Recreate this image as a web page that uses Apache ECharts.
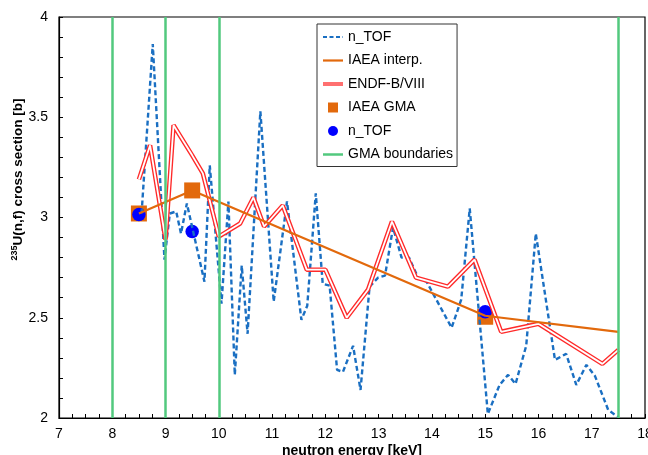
<!DOCTYPE html>
<html>
<head>
<meta charset="utf-8">
<script src="https://cdn.jsdelivr.net/npm/echarts@6/dist/echarts.min.js"></script>
<style>
    html, body { margin: 0; padding: 0; background: #fff; }
    #chart { width: 648px; height: 455px; }
</style>
</head>
<body>
<div id="chart"></div>
<script>
    // n_TOF fine-binned data (dashed)
    var nTofLine = [
        [8.55, 3.02], [8.76, 3.865], [8.98, 2.79], [9.08, 3.02], [9.2, 3.03],
        [9.29, 2.92], [9.40, 3.07], [9.73, 2.68], [9.83, 3.26], [10.05, 2.57],
        [10.18, 3.08], [10.30, 2.215], [10.43, 2.76], [10.54, 2.42], [10.78, 3.53],
        [11.03, 2.58], [11.28, 3.08], [11.55, 2.49], [11.66, 2.56], [11.82, 3.12],
        [11.95, 2.67], [12.08, 2.66], [12.22, 2.24], [12.33, 2.23], [12.52, 2.36],
        [12.66, 2.14], [12.83, 2.655], [12.99, 2.70], [13.12, 2.71], [13.27, 2.95],
        [13.43, 2.80], [13.57, 2.80], [13.74, 2.70], [13.90, 2.68], [14.37, 2.45],
        [14.55, 2.59], [14.71, 3.045], [15.05, 2.02], [15.27, 2.165], [15.43, 2.215],
        [15.57, 2.17], [15.77, 2.36], [15.95, 2.92], [16.31, 2.29], [16.52, 2.32],
        [16.71, 2.165], [16.90, 2.265], [17.06, 2.21], [17.31, 2.04], [17.49, 2.006]
    ];
    // IAEA interpolation
    var iaeaInterp = [[8.5, 3.02], [9.5, 3.135], [15, 2.51], [17.5, 2.43]];
    // ENDF/B-VIII
    var endf = [
        [8.5, 3.19], [8.71, 3.36], [9.0, 2.89], [9.15, 3.46], [9.5, 3.31],
        [9.7, 3.22], [10.0, 2.905], [10.4, 2.97], [10.65, 3.10], [10.85, 2.955],
        [11.2, 3.06], [11.65, 2.74], [12.0, 2.74], [12.4, 2.50], [12.8, 2.64],
        [13.25, 2.98], [13.7, 2.70], [14.3, 2.655], [14.8, 2.79], [15.3, 2.43],
        [16.0, 2.47], [17.2, 2.27], [17.5, 2.34]
    ];
    var iaeaGma = [[8.5, 3.02], [9.5, 3.135], [15, 2.505]];
    var nTofPoints = [[8.5, 3.015], [9.5, 2.93], [15, 2.53]];
    var gmaBounds = [8, 9, 10, 17.5];

    var xTicks = { min: 7, max: 18, interval: 1 };
    var yTicks = { min: 2, max: 4, interval: 0.5 };

    var chart = echarts.init(document.getElementById('chart'));
    var font = '"Liberation Sans", Arial, sans-serif';
    // hide the circle ECharts puts in the middle of line legend icons
    var noSymbol = { opacity: 0 };

    var option = {
        backgroundColor: '#fff',
        animation: false,
        textStyle: { fontFamily: font },
        grid: {
            left: 59, right: 3, top: 17, bottom: 37,
            outerBoundsMode: 'none',
            show: true, borderColor: '#000', borderWidth: 1.2
        },
        legend: {
            orient: 'vertical',
            left: 317, top: 24,
            backgroundColor: '#fff',
            borderColor: '#333', borderWidth: 1,
            padding: [6, 4, 5, 4],
            itemWidth: 20, itemHeight: 10, itemGap: 9.5,
            textStyle: { fontSize: 14, color: '#000', fontFamily: font },
            data: [
                { name: 'n_TOF', itemStyle: noSymbol, lineStyle: { width: 2.2, type: [4, 2.5] } },
                { name: 'IAEA interp.', itemStyle: noSymbol, lineStyle: { width: 2.2 } },
                { name: 'ENDF-B/VIII', itemStyle: noSymbol, lineStyle: { width: 4, color: '#ff7070' } },
                { name: 'IAEA GMA', icon: 'path://M0,0h10v10h-10z' },
                { name: 'n_TOF ', icon: 'circle' },
                { name: 'GMA boundaries', itemStyle: noSymbol, lineStyle: { width: 2.5 } }
            ]
        },
        xAxis: {
            type: 'value',
            min: xTicks.min, max: xTicks.max, interval: xTicks.interval,
            name: 'neutron energy [keV]',
            nameLocation: 'middle', nameGap: 26,
            nameMoveOverlap: false,
            nameTextStyle: { fontSize: 14, fontWeight: 'bold', color: '#000' },
            axisLine: { lineStyle: { color: '#000', width: 1.2 } },
            axisTick: { inside: true, length: 4, lineStyle: { color: '#000' } },
            minorTick: { show: true, splitNumber: 4, length: 4, lineStyle: { color: '#000' } },
            axisLabel: { fontSize: 14, color: '#000', margin: 9 },
            splitLine: { show: false }
        },
        yAxis: {
            type: 'value',
            min: yTicks.min, max: yTicks.max, interval: yTicks.interval,
            name: '{sup|235}{m|U(n,f) cross section [b]}',
            nameLocation: 'middle', nameGap: 33,
            nameMoveOverlap: false,
            nameTextStyle: {
                color: '#000',
                padding: [0, 0, 0, 76],
                rich: {
                    sup: { fontSize: 9, fontWeight: 'bold', verticalAlign: 'top', lineHeight: 14, fontFamily: font },
                    m: { fontSize: 13.5, fontWeight: 'bold', lineHeight: 16, fontFamily: font }
                }
            },
            axisLine: { lineStyle: { color: '#000', width: 1.2 } },
            axisTick: { inside: true, length: 4, lineStyle: { color: '#000' } },
            minorTick: { show: true, splitNumber: 5, length: 4, lineStyle: { color: '#000' } },
            axisLabel: { fontSize: 14, color: '#000', margin: 11 },
            splitLine: { show: false }
        },
        series: [
            {
                name: 'GMA boundaries',
                type: 'line',
                data: [],
                symbol: 'none',
                lineStyle: { color: '#52c97e', width: 2.5 },
                itemStyle: { color: '#52c97e' },
                markLine: {
                    silent: true,
                    symbol: 'none',
                    label: { show: false },
                    lineStyle: { color: '#52c97e', width: 2.5, type: 'solid' },
                    data: gmaBounds.map(function (v) { return { xAxis: v }; })
                }
            },
            {
                name: 'n_TOF',
                type: 'line',
                data: nTofLine,
                symbol: 'none',
                lineStyle: { color: '#1a6fc2', width: 2.4, type: [5, 3] },
                itemStyle: { color: '#1a6fc2' }
            },
            {
                name: 'ENDF-B/VIII',
                type: 'line',
                data: endf,
                symbol: 'none',
                lineStyle: { color: '#ff2a2a', width: 4.5 },
                itemStyle: { color: '#ff2a2a' }
            },
            {
                name: 'ENDF-inner',
                type: 'line',
                data: endf,
                symbol: 'none',
                lineStyle: { color: '#fff', width: 1.8 }
            },
            {
                name: 'IAEA interp.',
                type: 'line',
                data: iaeaInterp,
                symbol: 'none',
                lineStyle: { color: '#e2690c', width: 2.2 },
                itemStyle: { color: '#e2690c' }
            },
            {
                name: 'IAEA GMA',
                type: 'scatter',
                data: iaeaGma,
                symbol: 'rect',
                symbolSize: 16,
                itemStyle: { color: '#e2690c', opacity: 1 }
            },
            {
                name: 'n_TOF ',
                type: 'scatter',
                data: nTofPoints,
                symbol: 'circle',
                symbolSize: 13.5,
                itemStyle: { color: '#0000ff', opacity: 1 }
            }
        ]
    };

    chart.setOption(option);
</script>
</body>
</html>
